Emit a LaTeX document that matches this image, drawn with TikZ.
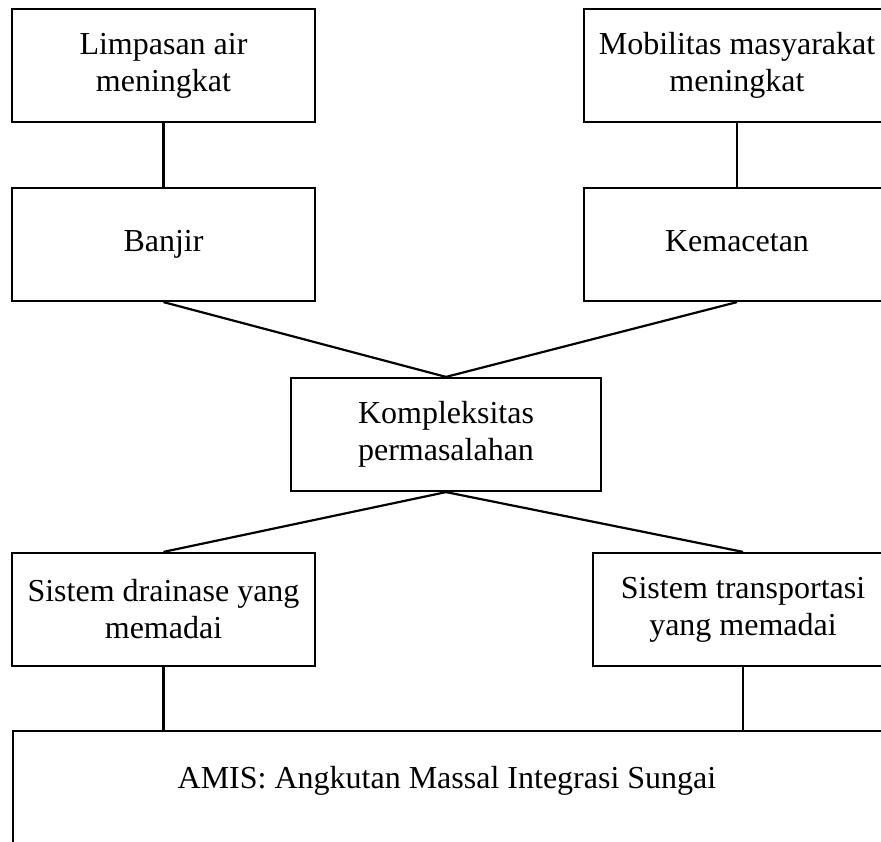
\documentclass[tikz,border=0pt]{standalone}
\usepackage{fontspec}
\setmainfont{Liberation Serif}
\begin{document}
\begin{tikzpicture}[x=1pt,y=-1pt,
  boxnode/.style={draw, line width=2.2pt, rectangle, align=center, inner sep=0pt,
    font=\fontsize{32}{37}\selectfont, minimum height=113pt},
  oneline/.style={text height=22pt, text depth=7pt},
  conn/.style={line width=2.2pt}]
\useasboundingbox (0,0) rectangle (881,842);
\clip (0,0) rectangle (881,842);
\node[boxnode, minimum width=303pt] (limp) at (163.5,65.5) {Limpasan air\\meningkat};
\node[boxnode, minimum width=306pt] (mob) at (737,65.5) {Mobilitas masyarakat\\meningkat};
\node[boxnode, oneline, minimum width=303pt] (banjir) at (163.5,244.5) {Banjir};
\node[boxnode, oneline, minimum width=306pt] (macet) at (737,244.5) {Kemacetan};
\node[boxnode, minimum width=310pt] (komp) at (446,434.5) {Kompleksitas\\permasalahan};
\node[boxnode, minimum width=303pt] (drain) at (163.5,609.5) {Sistem drainase yang\\memadai};
\node[boxnode, minimum width=300pt] (trans) at (743,609.5) {Sistem transportasi\\yang memadai};
\node[draw, line width=2.2pt, rectangle, inner sep=0pt, minimum width=890pt, minimum height=160pt, anchor=north west] (amis) at (12,730) {};
\node[font=\fontsize{32}{37}\selectfont, inner sep=0pt] (amistext) at (447,781) {AMIS: Angkutan Massal Integrasi Sungai};
\draw[conn] (limp.south) -- (banjir.north);
\draw[conn] (mob.south) -- (macet.north);
\draw[conn] (banjir.south) -- (komp.north);
\draw[conn] (macet.south) -- (komp.north);
\draw[conn] (komp.south) -- (drain.north);
\draw[conn] (komp.south) -- (trans.north);
\draw[conn] (drain.south) -- (drain.south |- amis.north);
\draw[conn] (trans.south) -- (trans.south |- amis.north);
\end{tikzpicture}
\end{document}
